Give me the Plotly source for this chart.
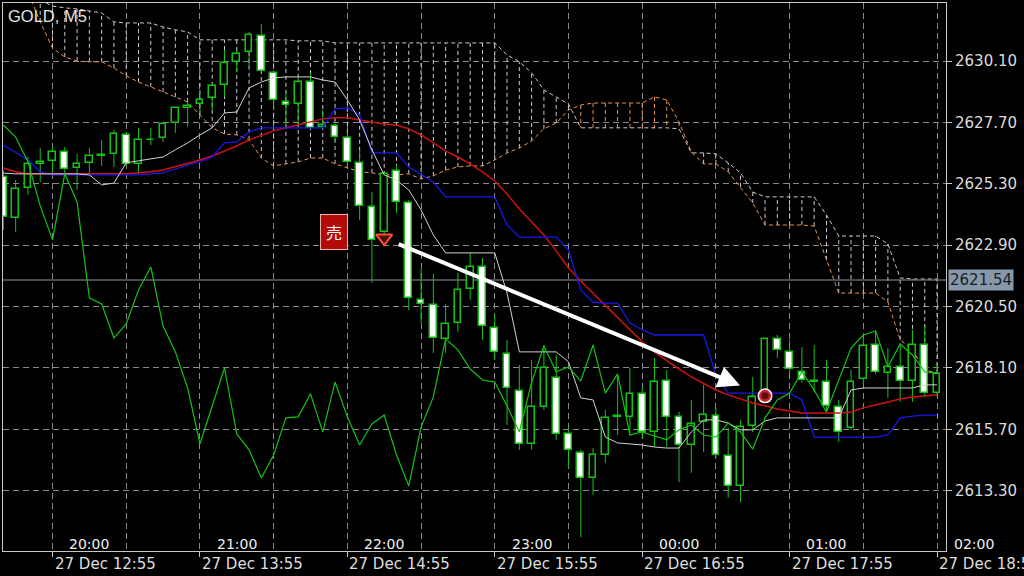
import plotly.graph_objects as go

# ---------------- data ----------------
bar_index = list(range(-4, 73))   # bar 0 = 27 Dec 12:55, 5-minute bars

opens = [2625.57, 2623.97, 2625.14, 2626.08, 2626.20, 2626.55, 2625.92, 2626.12, 2626.40, 2626.47,
         2627.21, 2626.08, 2627.00, 2627.09, 2627.68, 2628.27, 2628.42, 2628.66, 2629.17, 2630.07,
         2630.46, 2631.08, 2629.64, 2628.50, 2628.42, 2629.28, 2627.52, 2627.56, 2627.09, 2626.12,
         2624.40, 2623.42, 2625.80, 2624.55, 2620.76, 2620.56, 2619.24, 2619.86, 2621.19, 2622.05,
         2619.67, 2618.65, 2617.20, 2615.13, 2616.58, 2617.71, 2615.52, 2614.78, 2613.80, 2614.70,
         2616.22, 2616.19, 2617.09, 2615.60, 2617.59, 2616.19, 2615.09, 2615.99, 2616.22, 2614.66,
         2613.49, 2615.83, 2617.01, 2619.24, 2618.73, 2617.95, 2617.59, 2617.55, 2616.58, 2615.76,
         2617.67, 2619.00, 2617.91, 2618.14, 2617.59, 2619.00, 2617.12]
highs = [2625.84, 2625.45, 2626.35, 2626.70, 2626.78, 2626.74, 2626.47, 2626.70, 2627.02, 2627.41,
         2627.33, 2627.49, 2627.49, 2627.72, 2628.31, 2628.50, 2628.85, 2629.25, 2630.54, 2630.54,
         2631.24, 2631.55, 2629.68, 2628.97, 2629.44, 2629.64, 2628.19, 2627.64, 2627.33, 2626.63,
         2624.98, 2625.77, 2626.04, 2624.67, 2621.97, 2621.78, 2620.60, 2621.82, 2622.60, 2622.40,
         2620.17, 2619.20, 2618.22, 2618.41, 2619.00, 2618.61, 2615.76, 2614.90, 2614.97, 2616.46,
         2617.83, 2618.10, 2617.32, 2618.49, 2618.02, 2616.38, 2616.85, 2617.44, 2616.54, 2615.76,
         2616.07, 2617.75, 2619.27, 2619.39, 2619.20, 2618.92, 2619.00, 2618.41, 2616.85, 2618.02,
         2619.39, 2619.59, 2618.88, 2619.08, 2619.59, 2619.78, 2618.22]
lows = [2623.50, 2623.42, 2624.87, 2625.37, 2625.73, 2625.61, 2625.06, 2625.65, 2626.00, 2625.96,
        2626.00, 2625.69, 2626.82, 2626.94, 2627.29, 2627.52, 2628.07, 2628.19, 2628.70, 2629.68,
        2629.87, 2629.68, 2628.19, 2627.52, 2627.52, 2627.47, 2627.49, 2626.94, 2625.96, 2623.89,
        2621.43, 2623.30, 2624.16, 2620.37, 2619.86, 2618.69, 2618.69, 2619.51, 2620.76, 2619.20,
        2618.41, 2615.87, 2614.90, 2614.90, 2616.46, 2615.29, 2614.19, 2611.49, 2613.14, 2614.39,
        2615.48, 2615.48, 2615.36, 2615.01, 2615.01, 2613.64, 2614.00, 2614.82, 2614.58, 2613.02,
        2612.86, 2615.60, 2616.85, 2618.49, 2617.83, 2617.52, 2617.16, 2616.38, 2615.21, 2615.68,
        2617.44, 2617.87, 2616.93, 2616.77, 2616.77, 2616.97, 2616.97]
closes = [2624.00, 2625.10, 2626.08, 2626.16, 2626.55, 2625.88, 2626.08, 2626.39, 2626.43, 2627.25,
          2626.08, 2627.02, 2627.02, 2627.64, 2628.27, 2628.35, 2628.58, 2629.13, 2630.03, 2630.38,
          2631.12, 2629.71, 2628.58, 2628.38, 2629.28, 2627.49, 2627.60, 2627.13, 2626.16, 2624.44,
          2623.11, 2625.69, 2624.59, 2620.84, 2620.60, 2619.27, 2619.82, 2621.15, 2622.05, 2619.74,
          2618.73, 2617.32, 2615.13, 2616.58, 2618.10, 2615.52, 2614.90, 2613.80, 2614.70, 2616.15,
          2616.19, 2617.09, 2615.60, 2617.55, 2616.19, 2615.09, 2615.91, 2616.26, 2614.70, 2613.49,
          2615.79, 2616.97, 2619.24, 2618.81, 2618.06, 2617.63, 2617.55, 2616.62, 2615.60, 2617.55,
          2618.96, 2617.95, 2618.14, 2617.59, 2619.00, 2617.12, 2617.87]
# closes of the 26 bars after the visible window (seen only through the lagging span)
future_closes = [2615.48, 2615.60, 2615.44, 2615.29, 2615.68, 2615.87, 2615.48, 2615.40, 2615.95,
                 2615.60, 2614.93, 2616.15, 2616.85, 2617.12, 2617.95, 2617.24, 2616.38, 2617.63,
                 2618.88, 2619.39, 2619.55, 2618.14, 2619.04, 2618.61, 2617.95, 2617.91]

tenkan = [2625.72, 2625.69, 2625.69, 2625.69, 2625.69, 2625.69, 2625.69, 2625.65, 2625.26, 2625.33,
          2626.12, 2626.20, 2626.27, 2626.35, 2626.63, 2626.90, 2627.21, 2627.49, 2628.07, 2628.11,
          2629.05, 2629.28, 2629.44, 2629.48, 2629.48, 2629.48, 2629.36, 2629.28, 2628.58, 2627.80,
          2626.63, 2625.65, 2625.45, 2625.06, 2624.28, 2623.30, 2622.60, 2622.60, 2622.60, 2622.60,
          2622.60, 2621.03, 2618.73, 2618.73, 2618.73, 2618.73, 2618.34, 2616.93, 2616.85, 2615.40,
          2615.17, 2615.13, 2615.09, 2615.01, 2614.97, 2614.97, 2615.60, 2616.07, 2616.07, 2615.95,
          2615.68, 2615.68, 2616.03, 2616.15, 2616.15, 2616.15, 2616.15, 2616.15, 2616.15, 2617.24,
          2617.32, 2617.32, 2617.32, 2617.32, 2617.32, 2617.44, 2617.44]
kijun = [2626.82, 2626.51, 2626.23, 2625.77, 2625.65, 2625.65, 2625.65, 2625.65, 2625.65, 2625.65,
         2625.65, 2625.65, 2625.69, 2625.73, 2625.88, 2626.04, 2626.16, 2626.35, 2626.90, 2626.94,
         2627.33, 2627.49, 2627.49, 2627.49, 2627.49, 2627.49, 2627.49, 2628.23, 2628.27, 2627.99,
         2626.51, 2626.51, 2626.51, 2625.96, 2625.65, 2625.37, 2624.79, 2624.79, 2624.79, 2624.79,
         2624.79, 2623.69, 2623.22, 2623.22, 2623.22, 2623.22, 2622.72, 2621.15, 2620.68, 2620.64,
         2620.64, 2619.86, 2619.59, 2619.39, 2619.39, 2619.39, 2619.39, 2619.39, 2617.83, 2617.12,
         2617.12, 2617.12, 2617.12, 2617.12, 2617.12, 2616.85, 2615.40, 2615.40, 2615.40, 2615.40,
         2615.40, 2615.40, 2615.48, 2616.15, 2616.22, 2616.26, 2616.26]
moving_avg = [2625.92, 2625.77, 2625.69, 2625.69, 2625.69, 2625.69, 2625.69, 2625.69, 2625.69, 2625.69,
              2625.69, 2625.73, 2625.77, 2625.84, 2625.96, 2626.08, 2626.23, 2626.39, 2626.59, 2626.78,
              2627.02, 2627.21, 2627.37, 2627.49, 2627.60, 2627.72, 2627.84, 2627.88, 2627.88, 2627.80,
              2627.72, 2627.64, 2627.60, 2627.45, 2627.21, 2626.90, 2626.59, 2626.35, 2626.08, 2625.77,
              2625.41, 2624.90, 2624.32, 2623.81, 2623.30, 2622.68, 2622.01, 2621.50, 2621.03, 2620.56,
              2620.06, 2619.59, 2619.12, 2618.73, 2618.38, 2618.06, 2617.75, 2617.48, 2617.24, 2617.05,
              2616.89, 2616.73, 2616.62, 2616.50, 2616.42, 2616.34, 2616.34, 2616.34, 2616.34, 2616.38,
              2616.54, 2616.65, 2616.77, 2616.89, 2616.97, 2617.01, 2617.05]
span_a = [2633.66, 2633.27, 2632.80, 2631.63, 2630.61, 2630.26, 2630.10, 2630.07, 2630.07, 2629.83,
          2629.52, 2629.28, 2629.09, 2628.89, 2628.70, 2628.50, 2627.99, 2627.49, 2627.25, 2627.21,
          2627.02, 2626.31, 2626.00, 2626.08, 2626.16, 2626.31, 2626.31, 2626.08, 2625.92, 2625.77,
          2625.73, 2625.65, 2625.65, 2625.69, 2625.49, 2625.61, 2625.84, 2625.96, 2626.00, 2626.00,
          2626.23, 2626.51, 2626.70, 2626.98, 2627.45, 2627.68, 2628.19, 2628.38, 2628.46, 2628.46,
          2628.46, 2628.46, 2628.46, 2628.70, 2628.58, 2627.72, 2626.55, 2626.08, 2626.08, 2625.77,
          2625.18, 2624.55, 2623.69, 2623.69, 2623.69, 2623.69, 2623.65, 2622.32, 2621.03, 2621.03,
          2621.03, 2621.03, 2620.68, 2619.20, 2618.81, 2618.02, 2617.91]
span_b = [2633.27, 2633.08, 2632.88, 2632.49, 2632.25, 2632.18, 2632.14, 2632.06, 2631.98, 2631.63,
          2631.59, 2631.59, 2631.59, 2631.43, 2631.32, 2631.24, 2630.93, 2630.93, 2630.93, 2630.93,
          2630.93, 2630.93, 2630.93, 2630.93, 2630.89, 2630.89, 2630.89, 2630.81, 2630.81, 2630.81,
          2630.81, 2630.81, 2630.81, 2630.81, 2630.81, 2630.81, 2630.81, 2630.81, 2630.81, 2630.81,
          2630.81, 2630.34, 2630.07, 2629.64, 2628.97, 2628.70, 2628.42, 2627.49, 2627.49, 2627.49,
          2627.49, 2627.49, 2627.49, 2627.49, 2627.49, 2627.45, 2626.51, 2626.51, 2626.47, 2626.12,
          2625.73, 2624.98, 2624.79, 2624.79, 2624.79, 2624.79, 2624.79, 2624.08, 2623.26, 2623.26,
          2623.26, 2623.26, 2622.95, 2621.62, 2621.58, 2621.58, 2621.58]

price_ticks = [2613.30, 2615.70, 2618.10, 2620.50, 2622.90, 2625.30, 2627.70, 2630.10]
date_label_bars = [0, 12, 24, 36, 48, 60, 72]
date_labels = ["27 Dec 12:55", "27 Dec 13:55", "27 Dec 14:55", "27 Dec 15:55",
               "27 Dec 16:55", "27 Dec 17:55", "27 Dec 18:55"]
hour_label_bars = [3, 15, 27, 39, 51, 63, 75]
hour_labels = ["20:00", "21:00", "22:00", "23:00", "00:00", "01:00", "02:00"]
current_price = 2621.54
sell_signal = (27, 2623.18)     # bar, price
exit_signal = (58, 2617.01)     # bar, price
symbol_title = "GOLD, M5"

# ---------------- styling ----------------
X_RANGE = [-4.03, 72.73]
Y_RANGE = [2610.945, 2632.37]
GREEN = "#14c214"
GRID = "#8a8a8a"
FONT = "DejaVu Sans"


def xfrac(b):
    return (b - X_RANGE[0]) / (X_RANGE[1] - X_RANGE[0])


fig = go.Figure()

# --- Ichimoku cloud hatching (base axes, drawn beneath everything) ---
hx_g, hy_g, hx_o, hy_o = [], [], [], []
for b, a, s in zip(bar_index, span_a, span_b):
    if s >= a:
        hx_g += [b, b, None]; hy_g += [a, s, None]
    else:
        hx_o += [b, b, None]; hy_o += [a, s, None]
fig.add_trace(go.Scatter(x=hx_g, y=hy_g, mode="lines", line=dict(color="#cfc6cf", width=1, dash="4px,3px"),
                         hoverinfo="skip", showlegend=False))
fig.add_trace(go.Scatter(x=hx_o, y=hy_o, mode="lines", line=dict(color="#e8944e", width=1, dash="4px,3px"),
                         hoverinfo="skip", showlegend=False))
fig.add_trace(go.Scatter(x=bar_index, y=span_b, mode="lines", line=dict(color="#cfc6cf", width=1, dash="4px,3px"),
                         showlegend=False))
fig.add_trace(go.Scatter(x=bar_index, y=span_a, mode="lines", line=dict(color="#e8944e", width=1, dash="4px,3px"),
                         showlegend=False))
# current price line
fig.add_trace(go.Scatter(x=X_RANGE, y=[current_price, current_price], mode="lines",
                         line=dict(color="#8e98a6", width=1), hoverinfo="skip", showlegend=False))

# --- candles (overlay axes) ---
body_base = [min(o, c) for o, c in zip(opens, closes)]
body_h = [max(abs(c - o), 0.03) for o, c in zip(opens, closes)]
body_fill = ["#000000" if c >= o else "#ffffff" for o, c in zip(opens, closes)]
fig.add_trace(go.Bar(x=bar_index, y=body_h, base=body_base, width=0.55,
                     marker=dict(color=body_fill, line=dict(color=GREEN, width=1.5)),
                     xaxis="x2", yaxis="y2", showlegend=False))
wx, wy = [], []
for b, o, h, l, c in zip(bar_index, opens, highs, lows, closes):
    top, bot = max(o, c), min(o, c)
    wx += [b, b, None, b, b, None]
    wy += [h, top, None, bot, l, None]
fig.add_trace(go.Scatter(x=wx, y=wy, mode="lines", line=dict(color=GREEN, width=1),
                         xaxis="x2", yaxis="y2", hoverinfo="skip", showlegend=False))

# --- indicator lines ---
all_closes = closes + future_closes
chikou = [all_closes[k + 26] for k in range(len(bar_index))]
fig.add_trace(go.Scatter(x=bar_index, y=moving_avg, mode="lines", line=dict(color="#d01212", width=1.5),
                         xaxis="x2", yaxis="y2", showlegend=False))
fig.add_trace(go.Scatter(x=bar_index, y=kijun, mode="lines", line=dict(color="#1818e8", width=1.3),
                         xaxis="x2", yaxis="y2", showlegend=False))
fig.add_trace(go.Scatter(x=bar_index, y=tenkan, mode="lines", line=dict(color="#d2d2d2", width=1),
                         xaxis="x2", yaxis="y2", showlegend=False))
fig.add_trace(go.Scatter(x=bar_index, y=chikou, mode="lines", line=dict(color=GREEN, width=1.2),
                         xaxis="x2", yaxis="y2", showlegend=False))

# --- trade signals ---
fig.add_trace(go.Scatter(x=[sell_signal[0]], y=[sell_signal[1]], mode="markers",
                         marker=dict(symbol="triangle-down", size=14, color="#4a1206",
                                     line=dict(color="#ff4a3a", width=2)),
                         xaxis="x2", yaxis="y2", showlegend=False))
for size, col in [(15, "#f2f2f2"), (12, "#c8202a"), (7, "#5e0c0c")]:
    fig.add_trace(go.Scatter(x=[exit_signal[0]], y=[exit_signal[1]], mode="markers",
                             marker=dict(symbol="circle", size=size, color=col),
                             xaxis="x2", yaxis="y2", showlegend=False))

annotations = [
    dict(x=exit_signal[0], y=exit_signal[1], xref="x2", yref="y2",
         ax=sell_signal[0], ay=sell_signal[1], axref="x2", ayref="y2",
         showarrow=True, arrowhead=2, arrowsize=1.1, arrowwidth=4, arrowcolor="#ffffff",
         standoff=27, startstandoff=14, text=""),
    dict(x=sell_signal[0], y=sell_signal[1], xref="x2", yref="y2", text="売", showarrow=False,
         xshift=-50, yshift=6, font=dict(family="Noto Sans CJK JP", size=16, color="#ffffff"),
         bgcolor="#b30a0a", bordercolor="#e6b0b0", borderwidth=1, borderpad=5),
    dict(x=0, y=1, xref="paper", yref="paper", xanchor="left", yanchor="top", xshift=3, yshift=-2,
         text=symbol_title, showarrow=False, font=dict(family="Liberation Sans", size=16.5, color="#e4e4e4")),
    dict(x=1, y=current_price, xref="paper", yref="y", xanchor="left", yanchor="middle", xshift=2,
         text=f"{current_price:.2f}", showarrow=False, bgcolor="#8798ad", borderpad=1,
         font=dict(family=FONT, size=15, color="#1a1d22")),
]
for b, t in zip(date_label_bars, date_labels):
    annotations.append(dict(x=xfrac(b), y=0, xref="paper", yref="paper", xanchor="left", yanchor="middle",
                            xshift=0, yshift=-13, text=t, showarrow=False,
                            font=dict(family=FONT, size=15, color="#dedede")))
for b, t in zip(hour_label_bars, hour_labels):
    annotations.append(dict(x=xfrac(b), y=0, xref="paper", yref="paper", xanchor="center", yanchor="middle",
                            yshift=7, text=t, showarrow=False,
                            font=dict(family=FONT, size=14, color="#f0f0f0")))

fig.update_layout(
    width=1024, height=576,
    margin=dict(l=3, r=78, t=3, b=25),
    paper_bgcolor="#000000", plot_bgcolor="#000000",
    showlegend=False, barmode="overlay", bargap=0,
    annotations=annotations,
    xaxis=dict(range=X_RANGE, tickvals=date_label_bars, showticklabels=False,
               ticks="outside", ticklen=5, tickcolor="#c8c8c8",
               showgrid=True, gridcolor=GRID, griddash="6px,4px", gridwidth=1,
               minor=dict(tickvals=[b + 6 for b in date_label_bars[:-1]], showgrid=True,
                          gridcolor=GRID, griddash="6px,4px", ticks=""),
               showline=True, mirror=True, linecolor="#c8c8c8", linewidth=1, zeroline=False,
               fixedrange=True),
    yaxis=dict(range=Y_RANGE, side="right", tickvals=price_ticks,
               ticktext=[f"{v:.2f}" for v in price_ticks],
               tickfont=dict(family=FONT, size=15, color="#dcdcdc"),
               ticks="outside", ticklen=5, tickcolor="#c8c8c8",
               showgrid=True, gridcolor=GRID, griddash="6px,4px", gridwidth=1,
               showline=True, mirror=True, linecolor="#c8c8c8", linewidth=1, zeroline=False),
    xaxis2=dict(range=X_RANGE, overlaying="x", visible=False, showgrid=False, zeroline=False),
    yaxis2=dict(range=Y_RANGE, overlaying="y", side="right", visible=False, showgrid=False, zeroline=False),
)

fig.write_html("out.html", config={"displayModeBar": False},
               post_script="document.body.style.margin='0px'; document.body.style.overflow='hidden';")
